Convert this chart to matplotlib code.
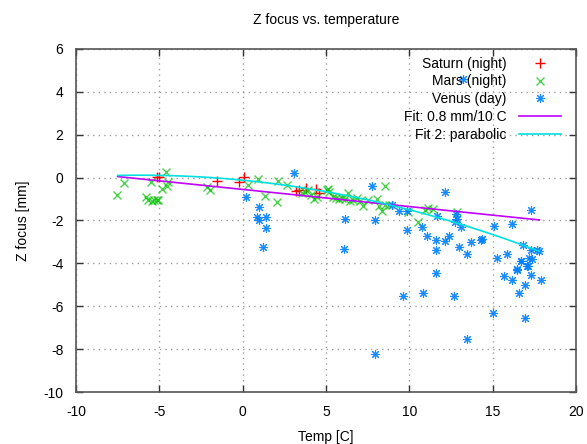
import matplotlib
matplotlib.use("Agg")
import matplotlib.pyplot as plt
import numpy as np

plt.rcParams["font.family"] = ["Liberation Sans", "DejaVu Sans"]
plt.rcParams["axes.unicode_minus"] = False

# Saturn (night)
saturn_t = [-5.12, -5.0, -1.56, 0.1, -0.2, 3.2, 3.35, 3.8, 4.4, 4.55]
saturn_z = [0.03, 0.05, -0.15, 0.03, -0.22, -0.64, -0.6, -0.5, -0.55, -0.7]

# Mars (night)
mars_t = [-7.52, -7.1, -5.8, -5.66, -5.46, -5.3, -5.16, -5.06, -5.5, -4.6,
          -4.86, -4.56, -4.46, -2.16, -1.96, 0.3, 0.94, 1.34, 2.04, 2.12,
          2.68, 3.54, 3.74, 3.94, 4.08, 4.28, 4.44, 5.04, 5.14, 5.2,
          5.4, 5.6, 5.8, 5.94, 6.14, 6.34, 6.44, 6.64, 6.84, 7.04,
          7.24, 7.54, 8.04, 8.2, 8.34, 8.54, 8.8, 8.54, 9.94, 10.54,
          10.94, 11.14, 11.4, 12.86]
mars_z = [-0.79, -0.25, -0.92, -1.03, -1.1, -1.06, -1.03, -1.03, -0.22, 0.25,
          -0.53, -0.4, -0.22, -0.45, -0.59, -0.33, -0.05, -0.84, -1.12, -0.18,
          -0.34, -0.71, -0.69, -0.56, -0.79, -0.98, -0.9, -0.56, -0.53, -0.69,
          -0.9, -0.95, -1.0, -0.95, -0.99, -0.71, -1.1, -1.03, -0.95, -1.1,
          -1.34, -1.03, -0.99, -1.34, -1.57, -1.26, -1.26, -0.4, -1.6, -2.08,
          -1.49, -1.41, -1.46, -1.6]

# Venus (day)
venus_t = [0.2, 1.0, 0.84, 0.96, 1.4, 1.4, 1.24, 3.06, 6.12, 6.06,
           7.78, 7.94, 7.94, 8.98, 9.4, 9.84, 9.88, 9.64, 10.76, 10.84,
           11.08, 11.58, 11.58, 11.58, 11.68, 12.14, 12.16, 12.4, 12.68, 12.78,
           12.88, 12.74, 13.08, 13.0, 13.44, 13.46, 13.68, 14.34, 14.28, 15.1,
           15.0, 15.28, 15.68, 15.88, 16.18, 16.18, 16.44, 16.46, 16.58, 16.68,
           16.72, 16.84, 16.96, 16.96, 17.08, 17.1, 17.16, 17.32, 17.32, 17.32,
           17.34, 17.68, 17.78, 17.88, 13.2]
venus_z = [-0.9, -1.38, -1.83, -1.96, -1.86, -2.35, -3.23, 0.22, -1.91, -3.33,
           -0.4, -1.96, -8.22, -1.29, -1.57, -1.57, -2.42, -5.53, -2.3, -5.38,
           -2.7, -2.92, -3.39, -4.43, -1.8, -0.67, -2.95, -2.7, -5.53, -1.72,
           -1.93, -2.07, -2.3, -3.23, -3.54, -7.55, -3.0, -2.84, -2.92, -2.27,
           -6.31, -3.73, -4.6, -3.54, -2.16, -4.79, -4.26, -4.32, -5.36, -3.88,
           -3.9, -3.16, -5.03, -6.54, -4.1, -4.14, -3.74, -1.51, -3.36, -4.52,
           -3.78, -3.36, -3.44, -4.79, 4.6]

# fit coefficients (z = c0 + c1*T + c2*T^2), fitted over T range
fit_range = [-7.5, 17.8]
fit1_coef = [-0.55, -0.08, 0.0]
fit2_coef = [-0.12, -0.076, -0.0062]

fig = plt.figure(figsize=(5.87, 4.44), dpi=100)
ax = fig.add_axes([76 / 587, 1 - 392 / 444, 500 / 587, 343 / 444])

ax.plot(saturn_t, saturn_z, ls="none", marker="+", ms=7, mew=1, color="#ff0000",
        label="Saturn (night)")
ax.plot(mars_t, mars_z, ls="none", marker="x", ms=6, mew=1, color="#00c000",
        alpha=0.7, label="Mars (night)")
ax.plot(venus_t, venus_z, ls="none", marker=(8, 2, 0), ms=6.5, mew=0.8,
        color="#0080ff", alpha=0.9, label="Venus (day)")

tt = np.linspace(fit_range[0], fit_range[1], 100)
ax.plot(tt, np.polyval(fit1_coef[::-1], tt), color="#c000ff", lw=1.2,
        label="Fit: 0.8 mm/10 C")
ax.plot(tt, np.polyval(fit2_coef[::-1], tt), color="#00e0e0", lw=1.2,
        label="Fit 2: parabolic")

ax.set_xlim(-10, 20)
ax.set_ylim(-10, 6)
ax.set_xticks(range(-10, 21, 5))
ax.set_yticks(range(-10, 7, 2))
ax.grid(True, color="#a0a0a0", ls=(0, (1, 3)), lw=1)
ax.tick_params(direction="in", top=True, right=True, length=5, width=1,
               labelsize=10, pad=9, color="#333333")
for s in ax.spines.values():
    s.set_color("#555555")
    s.set_linewidth(1.2)

ax.set_xlabel("Temp [C]", fontsize=10, labelpad=8)
ax.set_ylabel("Z focus [mm]", fontsize=10, labelpad=10)
ax.set_title("Z focus vs. temperature", fontsize=10, pad=18)

ax.legend(loc="upper right", bbox_to_anchor=(0.97, 0.978), markerfirst=False,
          frameon=False, numpoints=1, fontsize=10, handlelength=3.0,
          handletextpad=0.9, labelspacing=0.28, borderpad=0, borderaxespad=0)

fig.savefig("out.png", dpi=100)
